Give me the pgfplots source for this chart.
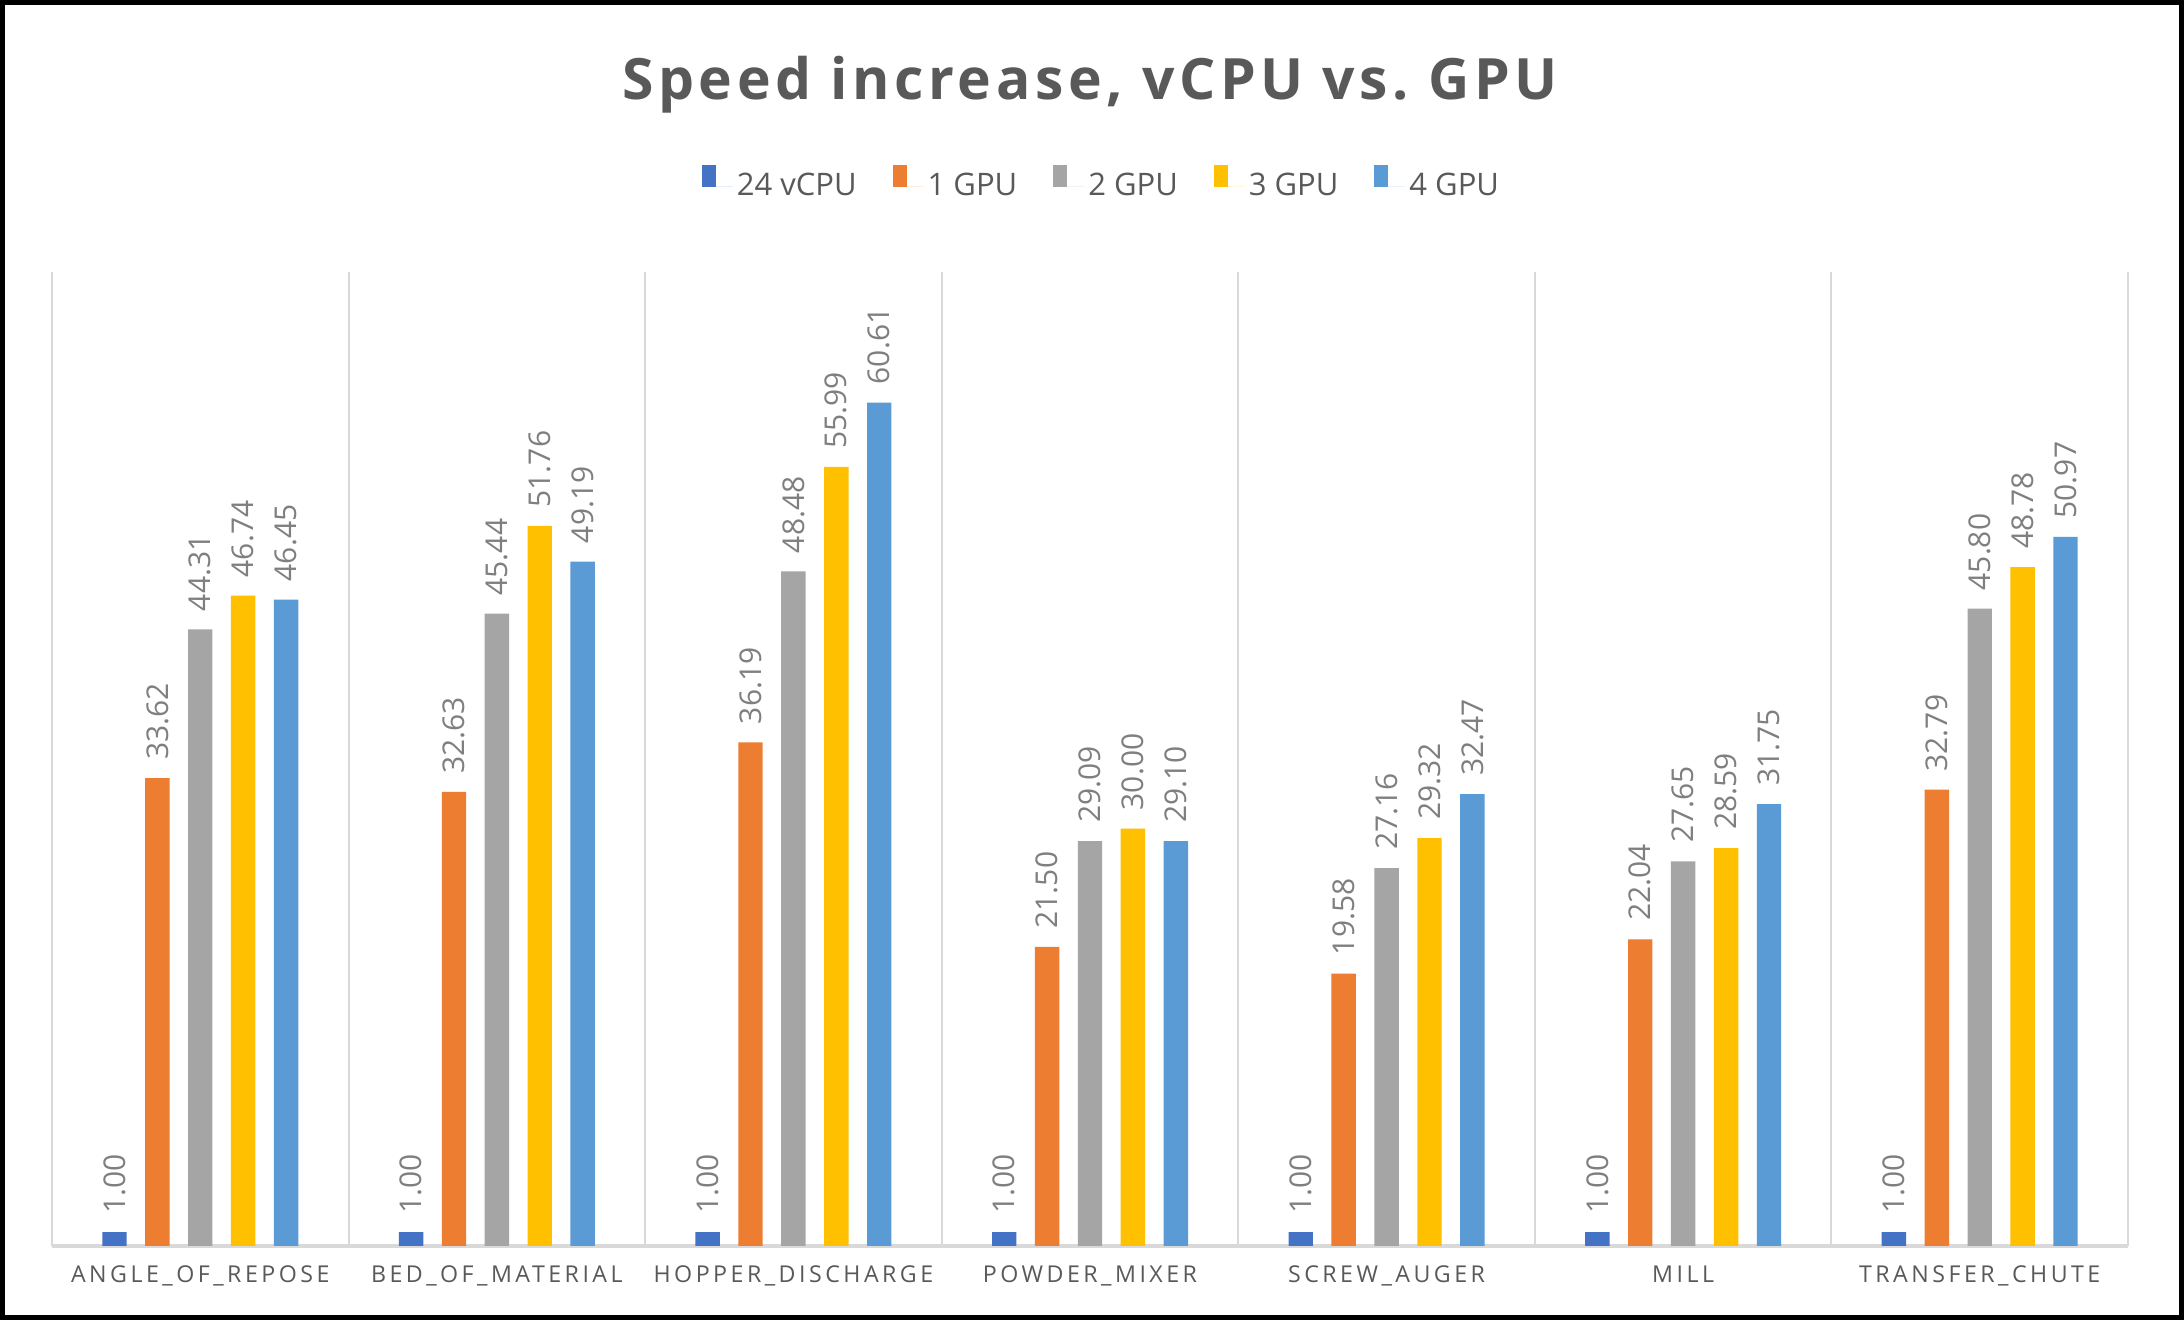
\documentclass[border=0pt]{standalone}
\usepackage{fontspec}
\setmainfont{Open Sans}
\newfontfamily\labelfont[LetterSpace=15]{Open Sans}
\newfontfamily\titlefont[LetterSpace=8]{Open Sans}
\usepackage{pgfplots}
\pgfplotsset{compat=1.18}
\definecolor{cA}{HTML}{4472C4}
\definecolor{cB}{HTML}{ED7D31}
\definecolor{cC}{HTML}{A5A5A5}
\definecolor{cD}{HTML}{FFC000}
\definecolor{cE}{HTML}{5B9BD5}
\definecolor{gridc}{HTML}{D9D9D9}
\definecolor{labc}{HTML}{595959}
\definecolor{valc}{HTML}{7F7F7F}
\begin{document}
\begin{tikzpicture}
\useasboundingbox (0,0) rectangle (1092pt,660pt);
\fill[white] (0,0) rectangle (1092pt,660pt);
\begin{axis}[
  at={(26pt,37pt)}, anchor=south west,
  scale only axis, width=1038pt, height=487pt,
  ybar, bar width=12.2pt,
  xmin=-0.5, xmax=6.5, ymin=0, ymax=70,
  clip=false,
  axis y line=none, axis x line*=bottom,
  x axis line style={draw=gridc, line width=2pt},
  xtick={0,1,2,3,4,5,6},
  xticklabels={ANGLE\_OF\_REPOSE,BED\_OF\_MATERIAL,HOPPER\_DISCHARGE,POWDER\_MIXER,SCREW\_AUGER,MILL,TRANSFER\_CHUTE},
  major tick length=0pt,
  minor xtick={-0.5,0.5,1.5,2.5,3.5,4.5,5.5,6.5},
  xminorgrids=true,
  minor grid style={draw=gridc, line width=1pt},
  minor tick length=0pt,
  xticklabel style={font=\labelfont\fontsize{11.6}{12}\selectfont, text=labc, yshift=-6.5pt},
  nodes near coords={\pgfmathprintnumber[fixed,fixed zerofill,precision=2,assume math mode=true]{\pgfplotspointmeta}},
  nodes near coords style={rotate=90, anchor=west, inner xsep=9pt, font=\fontsize{15}{15}\selectfont, text=valc},
  legend columns=5,
  legend style={at={(0.506,1.0903)}, anchor=center, draw=none, fill=none,
    font=\fontsize{15.5}{16}\selectfont, text=labc,
    /tikz/every even column/.append style={column sep=16pt}},
  legend image code/.code={\fill[#1] (0pt,-0.5pt) rectangle (7pt,10.5pt); \path (0pt,0pt) -- (15.5pt,0pt);},
]
\addplot[fill=cA, draw=none, bar shift=-42.9pt] coordinates {(0,1.00) (1,1.00) (2,1.00) (3,1.00) (4,1.00) (5,1.00) (6,1.00)};
\addplot[fill=cB, draw=none, bar shift=-21.45pt] coordinates {(0,33.62) (1,32.63) (2,36.19) (3,21.50) (4,19.58) (5,22.04) (6,32.79)};
\addplot[fill=cC, draw=none, bar shift=0pt] coordinates {(0,44.31) (1,45.44) (2,48.48) (3,29.09) (4,27.16) (5,27.65) (6,45.80)};
\addplot[fill=cD, draw=none, bar shift=21.45pt] coordinates {(0,46.74) (1,51.76) (2,55.99) (3,30.00) (4,29.32) (5,28.59) (6,48.78)};
\addplot[fill=cE, draw=none, bar shift=42.9pt] coordinates {(0,46.45) (1,49.19) (2,60.61) (3,29.10) (4,32.47) (5,31.75) (6,50.97)};
\legend{24 vCPU,1 GPU,2 GPU,3 GPU,4 GPU}
\end{axis}
\node[font=\titlefont\bfseries\fontsize{28.5}{30}\selectfont, text=labc] at (545pt,617.5pt) {Speed increase, vCPU vs.\ GPU};
\draw[line width=2.5pt] (1.25pt,1.25pt) rectangle (1090.75pt,658.75pt);
\end{tikzpicture}
\end{document}
